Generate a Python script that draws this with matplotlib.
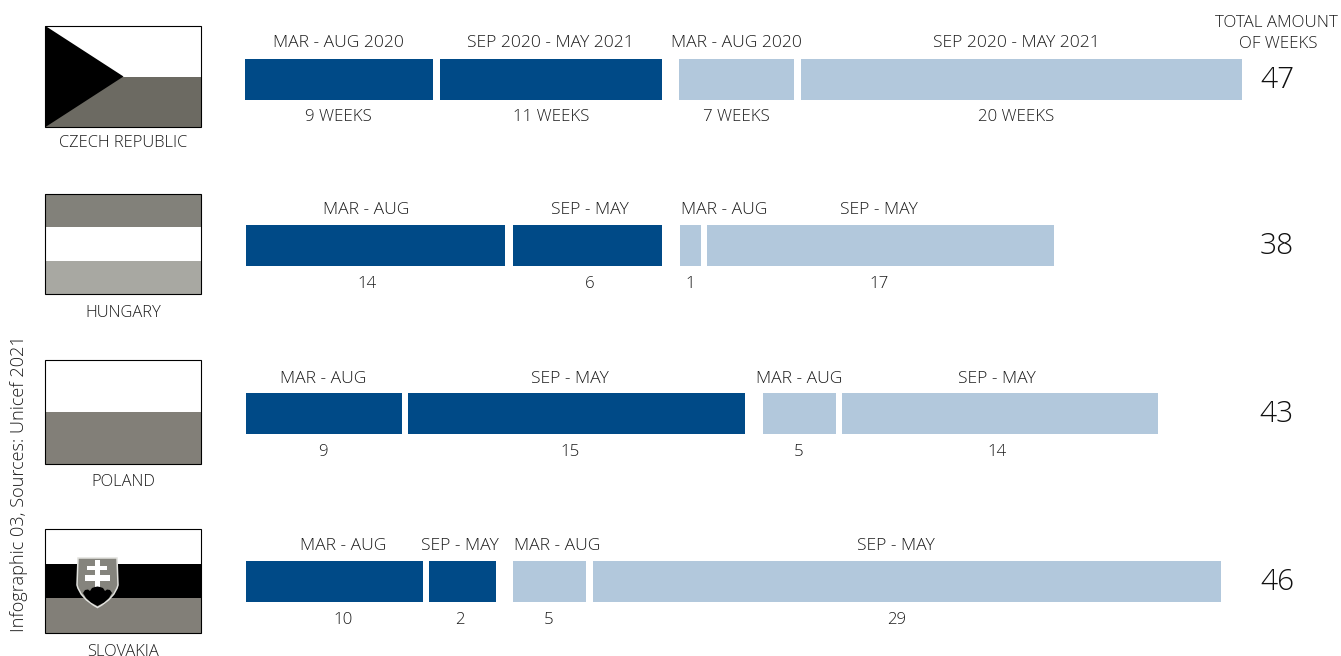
import matplotlib
matplotlib.use("Agg")
import matplotlib.pyplot as plt
from matplotlib.patches import Rectangle, Polygon, PathPatch
from matplotlib.path import Path

plt.rcParams['font.family'] = ['Open Sans', 'DejaVu Sans']

countries = ["CZECH REPUBLIC", "HUNGARY", "POLAND", "SLOVAKIA"]
totals = [47, 38, 43, 46]
bar_lengths = [[188, 222, 115, 441], [259, 149, 21, 347], [156, 337, 73, 316], [177, 67, 73, 628]]
period_labels = [
    ["MAR - AUG 2020", "SEP 2020 - MAY 2021", "MAR - AUG 2020", "SEP 2020 - MAY 2021"],
    ["MAR - AUG", "SEP - MAY", "MAR - AUG", "SEP - MAY"],
    ["MAR - AUG", "SEP - MAY", "MAR - AUG", "SEP - MAY"],
    ["MAR - AUG", "SEP - MAY", "MAR - AUG", "SEP - MAY"],
]
week_labels = [
    ["9 WEEKS", "11 WEEKS", "7 WEEKS", "20 WEEKS"],
    ["14", "6", "1", "17"],
    ["9", "15", "5", "14"],
    ["10", "2", "5", "29"],
]
period_x = [[338, 550, 736, 1016], [366, 590, 724, 879], [323, 570, 799, 997], [343, 460, 557, 896]]
week_x = [[338, 551, 736, 1016], [367, 590, 690, 879], [323, 570, 799, 997], [343, 460, 549, 897]]
bar_start = [245, 246, 246, 246]
bar_top = [59, 225, 393, 561]
bar_h = 41
gaps = [[7, 17, 7], [8, 18, 6], [6, 18, 6], [6, 17, 7]]
period_y = [43, 210, 379, 546]
week_y = [117, 284, 452, 620]
total_y = [80, 246, 414, 582]
flag_box = [(26, 127), (194, 294), (360, 464), (529, 633)]
name_y = [143, 313, 482, 652]

DARK = "#004a87"
LIGHT = "#b2c8dc"
TXT = "#1c1c1c"
FS = 12.2
FS_PERIOD = 12.6
FS_NAME = 11.9
W = "light"

fig = plt.figure(figsize=(13.41, 6.56), dpi=100)
ax = fig.add_axes([0, 0, 1, 1])
ax.set_xlim(0, 1341)
ax.set_ylim(656, 0)
ax.axis("off")

for i in range(4):
    left = bar_start[i]
    for j, w in enumerate(bar_lengths[i]):
        ax.barh(bar_top[i] + bar_h / 2, w, height=bar_h, left=left,
                color=DARK if j < 2 else LIGHT, linewidth=0)
        if j < 3:
            left += w + gaps[i][j]
        ax.text(period_x[i][j], period_y[i], period_labels[i][j], ha="center", va="center",
                fontsize=FS_PERIOD, color=TXT, fontweight=W)
        ax.text(week_x[i][j], week_y[i], week_labels[i][j], ha="center", va="center",
                fontsize=FS, color=TXT, fontweight=W)
    ax.text(1277, total_y[i], str(totals[i]), ha="center", va="center", fontsize=21.5,
            color="#111111", fontweight=W)
    ax.text(123, name_y[i], countries[i], ha="center", va="center", fontsize=FS_NAME,
            color=TXT, fontweight=W)

ax.text(1276, 23, "TOTAL AMOUNT", ha="center", va="center", fontsize=FS, color=TXT, fontweight=W)
ax.text(1278, 44, "OF WEEKS", ha="center", va="center", fontsize=FS, color=TXT, fontweight=W)
ax.text(19, 484, "Infographic 03, Sources: Unicef 2021", rotation=90, ha="center", va="center",
        fontsize=13.05, color=TXT, fontweight=W)

FL, FR = 45.5, 201
def band(y0, y1, c):
    ax.add_patch(Rectangle((FL, y0), FR - FL, y1 - y0, facecolor=c, linewidth=0, zorder=2))
def frame(y0, y1):
    ax.add_patch(Rectangle((FL, y0), FR - FL, y1 - y0, facecolor="none", edgecolor="black", linewidth=0.8, zorder=6))

# Czech Republic
y0, y1 = flag_box[0]
band(y0, 77, "white")
band(77, y1, "#6c6a62")
ax.add_patch(Polygon([(FL, y0), (123.5, 76.5), (FL, y1)], closed=True, facecolor="black", linewidth=0, zorder=3))
frame(y0, y1)
# Hungary
y0, y1 = flag_box[1]
band(y0, 227, "#82817a")
band(227, 261, "white")
band(261, y1, "#a8a8a2")
frame(y0, y1)
# Poland
y0, y1 = flag_box[2]
band(y0, 412, "white")
band(412, y1, "#827f78")
frame(y0, y1)
# Slovakia
y0, y1 = flag_box[3]
band(y0, 564, "white")
band(564, 598, "black")
band(598, y1, "#827f78")
frame(y0, y1)

# Slovak coat of arms
shield = Path(
    [(78, 558), (117, 558), (118, 585), (115, 598), (97.5, 607.5), (80, 598), (77, 585), (78, 558), (78, 558)],
    [Path.MOVETO, Path.LINETO, Path.LINETO, Path.CURVE3, Path.CURVE3, Path.CURVE3, Path.CURVE3, Path.LINETO, Path.CLOSEPOLY],
)
ax.add_patch(PathPatch(shield, facecolor="#85847d", edgecolor="#e2e2de", linewidth=1.1, zorder=4))
for (x, y, w, h) in [(95, 559.5, 5, 28), (87.5, 565.5, 20, 4.5), (85, 575, 25, 5.5)]:
    ax.add_patch(Rectangle((x, y), w, h, facecolor="white", linewidth=0, zorder=5))
ax.add_patch(Polygon([(83, 593), (85, 590), (88, 589.5), (90, 591), (92, 588), (95, 587), (97.5, 586.5),
                      (100, 587), (103, 588), (105, 591), (107, 589.5), (110, 590), (112, 593),
                      (109, 598), (104, 602.5), (97.5, 606), (91, 602.5), (86, 598)],
                     closed=True, facecolor="black", linewidth=0, zorder=5))

fig.savefig("out.png", dpi=100, facecolor="white")
